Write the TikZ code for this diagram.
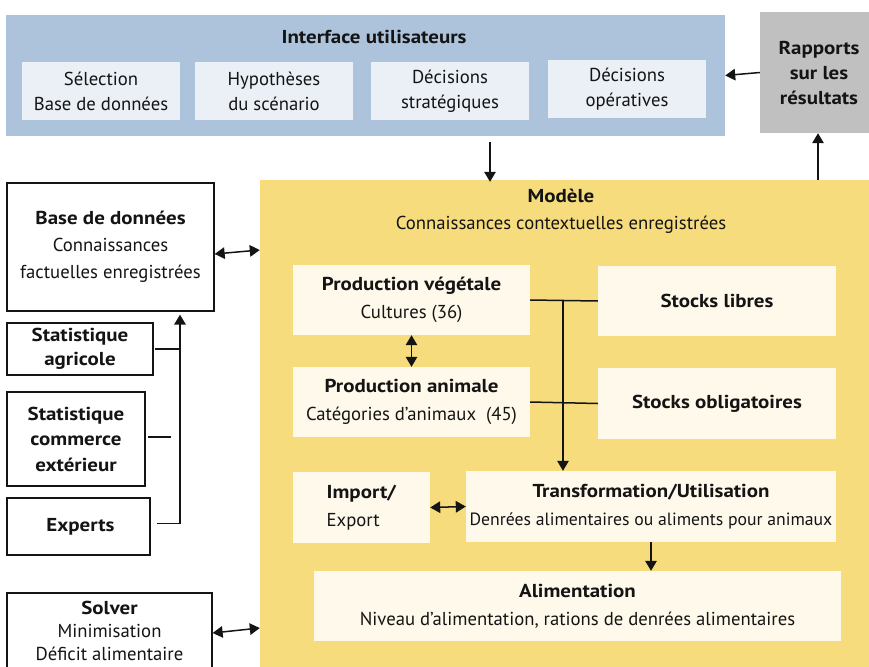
\documentclass[tikz,border=0pt]{standalone}
\usepackage{fontspec}
\setmainfont{PT Sans}[BoldFeatures={FakeStretch=1.12}]
\usetikzlibrary{arrows.meta,calc}
\definecolor{ifblue}{HTML}{ADC3DB}
\definecolor{iflight}{HTML}{EBF0F7}
\definecolor{rapgray}{HTML}{C0C0C0}
\definecolor{modyel}{HTML}{F6DC7C}
\definecolor{cream}{HTML}{FEF9EA}
\definecolor{ink}{HTML}{141414}
\begin{document}
\begin{tikzpicture}[x=1pt,y=-1pt,
  every node/.style={font=\fontsize{18.7}{25}\selectfont, text=ink, inner sep=0pt, align=center},
  ifbox/.style={fill=iflight, minimum width=158pt, minimum height=58pt},
  mbox/.style={fill=cream, font=\fontsize{18.7}{28}\selectfont},
  wbox/.style={draw=ink, line width=1.3pt, fill=white},
  conn/.style={draw=ink, line width=1.5pt},
  arr/.style={conn, -{Triangle[length=10pt,width=11.5pt]}},
  darr/.style={conn, {Triangle[length=10pt,width=11.5pt]}-{Triangle[length=10pt,width=11.5pt]}}]
\useasboundingbox (0,0) rectangle (869,666);
% Interface utilisateurs
\node[fill=ifblue, minimum width=719pt, minimum height=121pt] (iface) at (365.5,75.5) {};
\node (iftitle) at (374,37) {\textbf{Interface utilisateurs}};
\node[ifbox] (sel) at (101,91) {Sélection\\Base de données};
\node[ifbox] (hyp) at (274,91) {Hypothèses\\du scénario};
\node[ifbox] (strat) at (450,91) {Décisions\\stratégiques};
\node[ifbox] (oper) at (627,89) {Décisions\\opératives};
% Rapports
\node[fill=rapgray, minimum width=118pt, minimum height=121pt] (rap) at (819,72.5)
  {\textbf{Rapports}\\\textbf{sur les}\\\textbf{résultats}};
% Modele
\node[fill=modyel, minimum width=620pt, minimum height=500pt] (model) at (570,430) {};
\node[font=\fontsize{18.7}{27}\selectfont] (mtitle) at (561,211) {\textbf{Modèle}\\Connaissances contextuelles enregistrées};
\node[mbox, minimum width=237pt, minimum height=70pt] (pv) at (411.5,300) {\textbf{Production végétale}\\Cultures (36)};
\node[mbox, minimum width=237pt, minimum height=70pt] (pa) at (411.5,402) {\textbf{Production animale}\\Catégories d’animaux \ (45)};
\node[mbox, minimum width=238pt, minimum height=70pt] (sl) at (717,301) {\textbf{Stocks libres}};
\node[mbox, minimum width=238pt, minimum height=71pt] (so) at (717,403.5) {\textbf{Stocks obligatoires}};
\node[mbox, minimum width=137pt, minimum height=71pt, align=left] (ie) at (361.5,507.5) {\textbf{Import/}\\Export};
\node[mbox, minimum width=370pt, minimum height=71pt] (tu) at (651,506.5) {\textbf{Transformation/Utilisation}\\{\fontsize{17.7}{28}\selectfont Denrées alimentaires ou aliments pour animaux}};
\node[mbox, minimum width=527pt, minimum height=70pt] (al) at (577.5,606) {\textbf{Alimentation}\\Niveau d’alimentation, rations de denrées alimentaires};
% Left column
\node[wbox, minimum width=207pt, minimum height=128pt, font=\fontsize{18.7}{27}\selectfont] (base) at (110.5,247) {\textbf{Base de données}\\Connaissances\\factuelles enregistrées};
\node[wbox, minimum width=146pt, minimum height=52pt, font=\fontsize{18.7}{24}\selectfont] (agri) at (80,349) {\textbf{Statistique}\\\textbf{agricole}};
\node[wbox, minimum width=138pt, minimum height=94pt, font=\fontsize{18.7}{25.5}\selectfont] (comm) at (76,439) {\textbf{Statistique}\\\textbf{commerce}\\\textbf{extérieur}};
\node[wbox, minimum width=143pt, minimum height=57pt] (exp) at (78.5,526.5) {\hspace*{4pt}\textbf{Experts}};
\node[wbox, minimum width=205pt, minimum height=80pt] (solver) at (109.5,633) {};
\node[font=\fontsize{18.7}{23}\selectfont] (soltext) at (109.5,631) {\textbf{Solver}\\Minimisation\\Déficit alimentaire};
% Connectors
\coordinate (trunk) at (180,400);
\coordinate (commend) at (171,437);
\draw[arr] (rap.west) -- (iface.east);
\draw[arr, shorten >=4pt] ([xshift=124.5pt,yshift=-6pt]iface.south) -- ([xshift=124.5pt,yshift=-6pt]iface.south |- model.north);
\draw[arr] ([xshift=248pt]model.north) -- ([xshift=248pt]model.north |- rap.south);
\draw[darr] ([yshift=-7pt]base.east) -- ([yshift=-3pt]base.east -| model.west);
\draw[darr] (solver.east) -- ([yshift=5pt]solver.east -| model.west);
\draw[conn] ([xshift=1pt]agri.east) -- (agri.east -| trunk);
\draw[conn] ([xshift=2pt,yshift=2pt]comm.east) -- ([yshift=2pt]commend |- comm.east);
\draw[arr] ([xshift=6pt,yshift=3pt]exp.east) -| ([xshift=69.5pt,yshift=-3pt]base.south);
\draw[conn] (pv.east) -- (sl.west);
\draw[conn] (pa.east) -- (so.west);
\coordinate (j) at ($(pv.east)!0.485!(sl.west)$);
\draw[arr] (j) -- (j |- tu.north);
\draw[darr] (pv.south) -- (pa.north);
\draw[darr] (ie.east) -- (tu.west);
\draw[arr] (tu.south) -- (tu.south |- al.north);
\end{tikzpicture}
\end{document}
